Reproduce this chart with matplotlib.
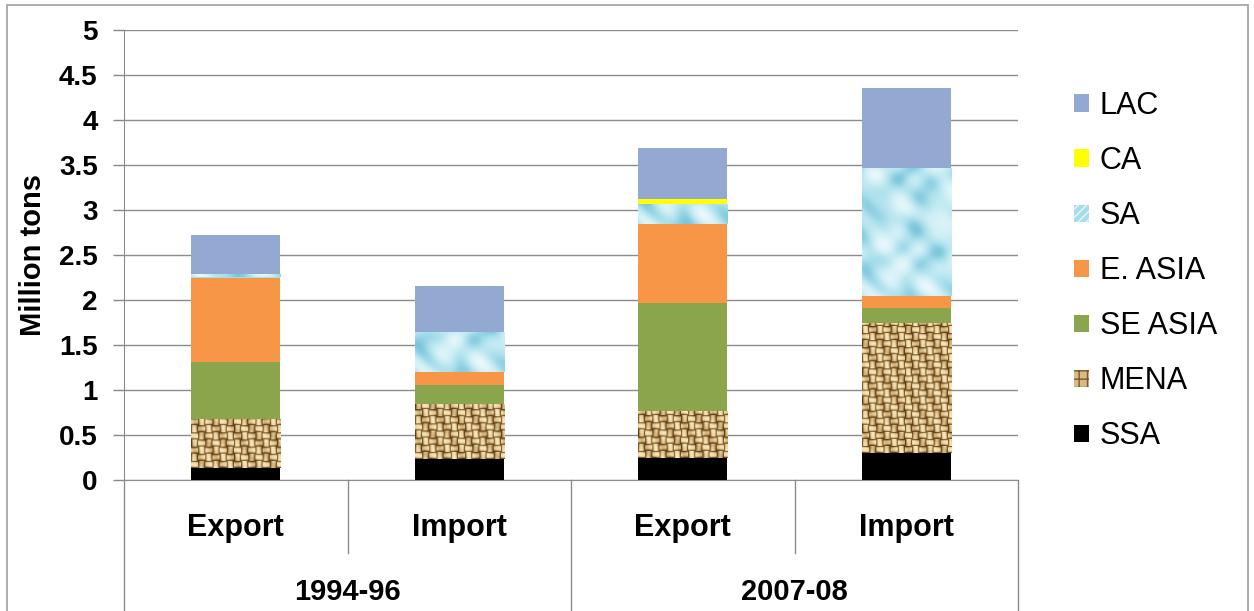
import numpy as np
import matplotlib
matplotlib.use('Agg')
import matplotlib.pyplot as plt
import matplotlib.patches as patches
from matplotlib.colors import LinearSegmentedColormap
import matplotlib.transforms as mtransforms

plt.rcParams['font.family'] = ['Liberation Sans', 'DejaVu Sans']

# categories and stacked series (million tons), bottom to top
flows = ['Export', 'Import', 'Export', 'Import']
periods = ['1994-96', '2007-08']
ssa = [0.13, 0.23, 0.24, 0.30]
mena = [0.55, 0.61, 0.53, 1.44]
se_asia = [0.63, 0.22, 1.20, 0.17]
e_asia = [0.94, 0.14, 0.87, 0.13]
sa = [0.04, 0.44, 0.23, 1.43]
ca = [0.00, 0.00, 0.05, 0.00]
lac = [0.43, 0.52, 0.57, 0.89]

series = [('SSA', ssa, '#000000'),
          ('MENA', mena, '#c9a66b'),
          ('SE ASIA', se_asia, '#8aa54b'),
          ('E. ASIA', e_asia, '#f79646'),
          ('SA', sa, '#a6dde9'),
          ('CA', ca, '#ffff00'),
          ('LAC', lac, '#93a9d2')]

burlap = LinearSegmentedColormap.from_list('burlap', ['#5a3c1a', '#a7834b', '#e6cd96', '#f7e8c0'])
water = LinearSegmentedColormap.from_list('water', ['#7cc6db', '#a9dfec', '#cdeef5', '#eaf8fb'])


def weave_tex(h, w, cell=7):
    y, x = np.mgrid[0:h, 0:w]
    blk = ((y // cell) + (x // cell)) % 2
    hy = np.sin(np.pi * (y % cell + 0.5) / cell)
    vx = np.sin(np.pi * (x % cell + 0.5) / cell)
    v = np.where(blk == 0, hy, vx) ** 0.6
    v = v * (0.85 + 0.15 * np.sin(x * 0.37 + y * 0.21))
    return v


def water_tex(h, w):
    y, x = np.mgrid[0:h, 0:w].astype(float)
    d1 = np.sin(x / 9.0 + 1.2 * np.sin(y / 13.0)) * np.cos(y / 10.0 + 1.0 * np.sin(x / 15.0))
    d2 = np.sin((x + y) / 5.0) * 0.25
    v = 0.5 + 0.4 * d1 + d2 * 0.4
    return np.clip(v, 0, 1)


fig = plt.figure(figsize=(12.54, 6.11), dpi=100)
ax = fig.add_axes((124 / 1254, 1 - 480 / 611, 894 / 1254, 450 / 611))

x = np.arange(len(flows))
width = 0.4
bottom = np.zeros(len(flows))
px_per_unit = 90
for name, vals, col in series:
    vals = np.array(vals)
    bars = ax.bar(x, vals, width, bottom=bottom, color=col, linewidth=0, zorder=3)
    if name in ('MENA', 'SA'):
        for b, v, b0 in zip(bars, vals, bottom):
            if v <= 0:
                continue
            h = max(int(v * px_per_unit), 2)
            tex = weave_tex(h, 88) if name == 'MENA' else water_tex(h, 88)
            cm = burlap if name == 'MENA' else water
            im = ax.imshow(tex, cmap=cm, extent=(b.get_x(), b.get_x() + width, b0, b0 + v),
                           aspect='auto', interpolation='bilinear', zorder=4, origin='lower')
            im.set_clip_path(b)
    bottom += vals

ax.set_xlim(-0.5, 3.5)
ax.set_ylim(0, 5)
ax.set_yticks(np.arange(0, 5.01, 0.5))
ax.set_yticklabels(['0', '0.5', '1', '1.5', '2', '2.5', '3', '3.5', '4', '4.5', '5'],
                   fontsize=20, fontweight='bold')
ax.tick_params(axis='y', length=8, width=1, color='#888888', pad=11)
ax.tick_params(axis='x', length=0, labelbottom=False)
ax.yaxis.grid(True, color='#8c8c8c', linewidth=1, zorder=0)
ax.set_axisbelow(True)
for s in ('top', 'right'):
    ax.spines[s].set_visible(False)
ax.spines['left'].set_color('#8c8c8c')
ax.spines['bottom'].set_color('#8c8c8c')
fig.text(33 / 1254, 1 - 255 / 611, 'Million tons', rotation=90, ha='center', va='center',
         fontsize=21, fontweight='bold')

# two-level category axis below the plot
trans = mtransforms.blended_transform_factory(ax.transData, ax.transAxes)
for xs, ylow in [(-0.5, -0.32), (0.5, -0.162), (1.5, -0.32), (2.5, -0.162), (3.5, -0.32)]:
    ax.plot([xs, xs], [0, ylow], transform=trans, color='#8c8c8c', lw=1, clip_on=False)
for xi, lab in zip(x, flows):
    ax.text(xi, -0.107, lab, transform=trans, ha='center', va='center',
            fontsize=22, fontweight='bold')
for i, per in enumerate(periods):
    ax.text(2 * i + 0.5, -0.25, per, transform=trans, ha='center', va='center',
            fontsize=21, fontweight='bold')

# legend, top entry first
handles = []
labels = []
for name, vals, col in reversed(series):
    if name == 'MENA':
        h = patches.Patch(facecolor='#d8bb82', edgecolor='#7a5a2c', hatch='++', linewidth=0)
    elif name == 'SA':
        h = patches.Patch(facecolor='#a6dde9', edgecolor='#e8f7fa', hatch='////', linewidth=0)
    else:
        h = patches.Patch(facecolor=col, linewidth=0)
    handles.append(h)
    labels.append(name)
fig.legend(handles, labels, loc='upper left', bbox_to_anchor=(1074 / 1254, 1 - 91 / 611),
           frameon=False, fontsize=22, handlelength=0.5, handleheight=0.5,
           handletextpad=0.35, labelspacing=0.82, borderpad=0, borderaxespad=0)

# chart area border
fig.patches.append(patches.Rectangle((7 / 1254, -0.02), 1241 / 1254, 1.02 - 5 / 611,
                                     transform=fig.transFigure, fill=False,
                                     edgecolor='#a0a0a0', linewidth=1.2))

fig.savefig('out.png', dpi=100)
